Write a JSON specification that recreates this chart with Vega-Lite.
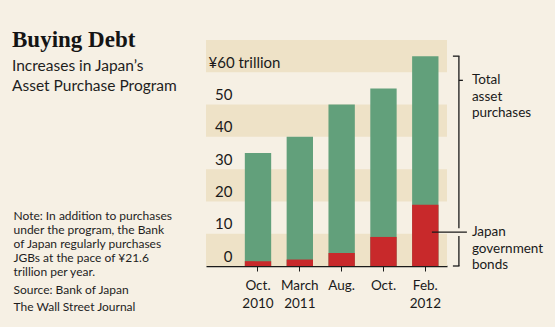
{
  "$schema": "https://vega.github.io/schema/vega-lite/v6.json",
  "autosize": {"type": "none"},
  "width": 241,
  "height": 226,
  "padding": {"left": 206, "top": 40, "right": 108, "bottom": 61},
  "background": "#f6f0e4",
  "config": {"view": {"stroke": null}, "font": "Lato", "axis": {"labelOverlap": false, "labelBound": false, "labelFlush": false}},
  "title": {
    "text": "Buying Debt",
    "subtitle": ["Increases in Japan’s", "Asset Purchase Program"],
    "anchor": "start",
    "frame": "group",
    "dx": -194,
    "dy": 58,
    "font": "Liberation Serif",
    "fontSize": 23,
    "fontWeight": "bold",
    "color": "#141414",
    "subtitleFont": "Lato",
    "subtitleFontSize": 15.5,
    "subtitleColor": "#1e1e1e",
    "subtitleLineHeight": 20,
    "subtitlePadding": 7
  },
  "datasets": {
    "purchases": [
      {"period": "Oct.|2010", "total": 35, "jgb": 1.5},
      {"period": "March|2011", "total": 40, "jgb": 2},
      {"period": "Aug.", "total": 50, "jgb": 4},
      {"period": "Oct.", "total": 55, "jgb": 9},
      {"period": "Feb.|2012", "total": 65, "jgb": 19}
    ],
    "bands": [
      {"lo": 0, "hi": 10},
      {"lo": 20, "hi": 30},
      {"lo": 40, "hi": 50},
      {"lo": 60, "hi": 70}
    ],
    "brackets": [
      {"period": "Feb.|2012", "from": 65, "to": 11.7},
      {"period": "Feb.|2012", "from": 9.3, "to": 0}
    ],
    "bracketEnds": [
      {"period": "Feb.|2012", "at": 65},
      {"period": "Feb.|2012", "at": 0}
    ],
    "labels": [
      {"period": "Feb.|2012", "at": 57.5, "kind": "total", "label": "Total\nasset\npurchases"},
      {"period": "Feb.|2012", "at": 10.5, "kind": "jgb", "label": "Japan\ngovernment\nbonds"}
    ]
  },
  "layer": [
    {
      "data": {"name": "bands"},
      "mark": {"type": "rect", "color": "#eee2c7"},
      "encoding": {
        "y": {
          "field": "lo",
          "type": "quantitative",
          "scale": {"domain": [0, 70], "nice": false, "zero": true},
          "axis": {
            "values": [0, 10, 20, 30, 40, 50, 60],
            "tickCount": 7,
            "labelExpr": "datum.value == 60 ? '¥60 trillion' : datum.label",
            "domain": false,
            "ticks": false,
            "grid": false,
            "zindex": 1,
            "labelFont": "Lato",
            "labelFontSize": 15,
            "labelColor": "#1a1a1a",
            "labelBaseline": "alphabetic",
            "labelOffset": -5,
            "labelAlign": {"condition": {"test": "datum.value == 60", "value": "left"}, "value": "right"},
            "labelPadding": {"condition": {"test": "datum.value == 60", "value": -2}, "value": -26},
            "labelOverlap": false,
            "title": ["Note: In addition to purchases", "under the program, the Bank", "of Japan regularly purchases", "JGBs at the pace of ¥21.6", "trillion per year."],
            "titleX": -193,
            "titleY": 179,
            "titleAngle": 0,
            "titleAlign": "left",
            "titleAnchor": "start",
            "titleBaseline": "alphabetic",
            "titleFont": "Lato",
            "titleFontSize": 12,
            "titleFontWeight": "normal",
            "titleLineHeight": 14,
            "titleColor": "#1e1e1e"
          }
        },
        "y2": {"field": "hi"}
      }
    },
    {
      "encoding": {
        "x": {
          "field": "period",
          "type": "nominal",
          "sort": null,
          "scale": {"domain": ["Oct.|2010", "March|2011", "Aug.", "Oct.", "Feb.|2012"], "paddingInner": 0.37, "paddingOuter": 0.566, "align": 0.82},
          "axis": {
            "title": ["Source: Bank of Japan", "The Wall Street Journal"],
            "titleX": -193,
            "titleY": 27,
            "titleAlign": "left",
            "titleAnchor": "start",
            "titleBaseline": "alphabetic",
            "titleFont": "Lato",
            "titleFontSize": 12,
            "titleFontWeight": "normal",
            "titleLineHeight": 17,
            "titleColor": "#1e1e1e",
            "labelExpr": "split(datum.label, '|')",
            "labelAngle": 0,
            "labelFont": "Lato",
            "labelFontSize": 13.5,
            "labelLineHeight": 18,
            "labelBaseline": "top",
            "labelPadding": 7,
            "labelColor": "#1a1a1a",
            "labelLimit": 0,
            "tickColor": "#1a1a1a",
            "tickSize": 5,
            "tickWidth": 1,
            "domainColor": "#1a1a1a",
            "domainWidth": 1.5
          }
        }
      },
      "layer": [
        {
          "data": {"name": "purchases"},
          "mark": {"type": "bar", "color": "#62a07b"},
          "encoding": {
            "y": {"field": "total", "type": "quantitative", "axis": {"values": [0, 10, 20, 30, 40, 50, 60], "labelOverlap": false}}
          }
        },
        {
          "data": {"name": "purchases"},
          "mark": {"type": "bar", "color": "#c8292b"},
          "encoding": {
            "y": {"field": "jgb", "type": "quantitative"}
          }
        },
        {
          "data": {"name": "brackets"},
          "mark": {"type": "rule", "color": "#1a1a1a", "strokeWidth": 1.3, "xOffset": 33.6},
          "encoding": {
            "y": {"field": "from", "type": "quantitative"},
            "y2": {"field": "to"}
          }
        },
        {
          "data": {"name": "bracketEnds"},
          "mark": {"type": "rule", "color": "#1a1a1a", "strokeWidth": 1.3, "xOffset": 27.6, "x2Offset": 34.2},
          "encoding": {
            "x2": {"field": "period"},
            "y": {"field": "at", "type": "quantitative"}
          }
        },
        {
          "data": {"name": "labels"},
          "transform": [{"filter": "datum.kind == 'total'"}],
          "mark": {"type": "rule", "color": "#1a1a1a", "strokeWidth": 1.3, "xOffset": 33.6, "x2Offset": 37.6},
          "encoding": {
            "x2": {"field": "period"},
            "y": {"field": "at", "type": "quantitative"}
          }
        },
        {
          "data": {"name": "labels"},
          "transform": [{"filter": "datum.kind == 'jgb'"}],
          "mark": {"type": "rule", "color": "#1a1a1a", "strokeWidth": 1.3, "xOffset": 6.6, "x2Offset": 41.6},
          "encoding": {
            "x2": {"field": "period"},
            "y": {"field": "at", "type": "quantitative"}
          }
        },
        {
          "data": {"name": "labels"},
          "mark": {"type": "text", "align": "left", "baseline": "middle", "dx": 46.6, "lineBreak": "\n", "font": "Lato", "fontSize": 13.5, "lineHeight": 16.5, "color": "#1a1a1a"},
          "encoding": {
            "y": {"field": "at", "type": "quantitative"},
            "text": {"field": "label"}
          }
        }
      ]
    }
  ]
}
